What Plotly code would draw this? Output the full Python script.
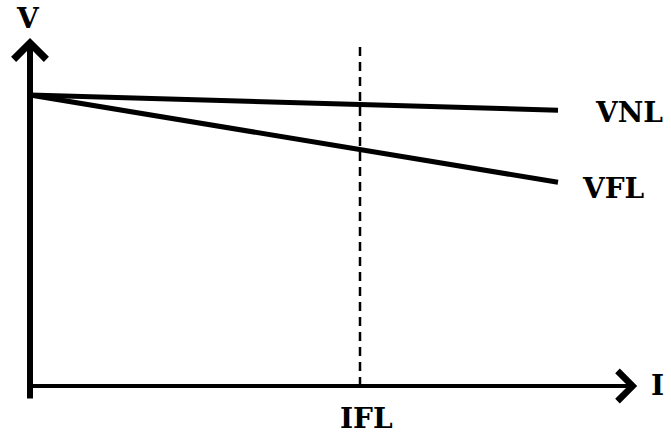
import plotly.graph_objects as go

# Data (per-unit style schematic)
current = [0.0, 1.6]            # I from origin to line end
v_no_load = [1.0, 0.948]        # VNL
v_full_load = [1.0, 0.70]       # VFL
i_full_load = 1.0               # IFL position
series_names = ["VNL", "VFL"]
axis_labels = {"x": "I", "y": "V", "ifl": "IFL"}

# Axis extents (data units)
I_AXIS_END = 1.84
V_AXIS_END = 1.196
V_AXIS_BOTTOM = -0.048
DASH_TOP = 1.17

FONT = dict(family="DejaVu Serif", size=28, color="black", weight="bold")

fig = go.Figure()
for name, vals in zip(series_names, [v_no_load, v_full_load]):
    fig.add_trace(go.Scatter(x=current, y=vals, mode="lines", name=name,
                             line=dict(color="black", width=5), showlegend=False,
                             hoverinfo="skip"))

# dashed IFL line
fig.add_shape(type="line", x0=i_full_load, x1=i_full_load, y0=0, y1=DASH_TOP,
              xref="x", yref="y", line=dict(color="black", width=2.5, dash="9px,6px"))

# Axes with arrows
fig.add_annotation(x=0, y=V_AXIS_END, ax=0, ay=V_AXIS_BOTTOM, xref="x", yref="y",
                   axref="x", ayref="y", showarrow=True, arrowhead=4, arrowwidth=6,
                   arrowsize=1.05, arrowcolor="black", text="")
fig.add_annotation(x=I_AXIS_END, y=0, ax=0, ay=0, xref="x", yref="y",
                   axref="x", ayref="y", showarrow=True, arrowhead=4, arrowwidth=4,
                   arrowsize=1.45, arrowcolor="black", text="")

# Labels
fig.add_annotation(x=0, y=V_AXIS_END, xref="x", yref="y", text=axis_labels["y"],
                   showarrow=False, yanchor="middle", xanchor="center", yshift=19,
                   xshift=-2, borderpad=0, font=FONT)
fig.add_annotation(x=I_AXIS_END, y=0, xref="x", yref="y", text=axis_labels["x"],
                   showarrow=False, xanchor="left", yanchor="middle", xshift=12, font=FONT)
fig.add_annotation(x=i_full_load, y=0, xref="x", yref="y", text=axis_labels["ifl"],
                   showarrow=False, xanchor="center", yanchor="middle", yshift=-33,
                   xshift=6, font=FONT)
fig.add_annotation(x=current[-1], y=v_no_load[-1], xref="x", yref="y", text=series_names[0],
                   showarrow=False, xanchor="left", yanchor="middle", xshift=35,
                   yshift=-2, font=FONT)
fig.add_annotation(x=current[-1], y=v_full_load[-1], xref="x", yref="y", text=series_names[1],
                   showarrow=False, xanchor="left", yanchor="middle", xshift=22,
                   yshift=-6, font=FONT)

fig.update_layout(
    width=671, height=437,
    margin=dict(l=0, r=0, t=0, b=0),
    paper_bgcolor="white", plot_bgcolor="white",
    xaxis=dict(range=[-0.0909, 1.9424], visible=False, fixedrange=True),
    yaxis=dict(range=[-0.1753, 1.3265], visible=False, fixedrange=True),
    showlegend=False,
)
fig.write_html("out.html", post_script="document.body.style.margin='0px';",
               config={"displayModeBar": False})
